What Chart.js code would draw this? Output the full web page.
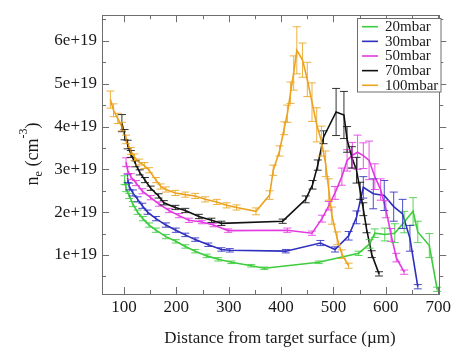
<!DOCTYPE html>
<html><head><meta charset="utf-8">
<script src="https://cdn.jsdelivr.net/npm/chart.js@4/dist/chart.umd.min.js"></script>
<style>html,body{margin:0;padding:0;background:#fff}#wrap{width:454px;height:352px}</style>
</head><body><div id="wrap"><canvas id="c" width="454" height="352"></canvas></div>
<script>
// ---- data (n_e in units of 1e19 cm^-3, distance in µm) ----
const seriesLabels = ['20mbar', '30mbar', '50mbar', '70mbar', '100mbar'];
const seriesColors = ['#3dcc3d', '#2e2ebf', '#e23ae2', '#111111', '#eba31f'];

const x20 = [101,104,110,117,126,136,148,161,180,199,217,236,258,280,305,343,368,472,548,569,579,598,617,635,652,661,683,698];
const n20 = [2.75,2.56,2.38,2.19,2.00,1.85,1.70,1.58,1.43,1.32,1.20,1.09,0.98,0.90,0.83,0.75,0.69,0.83,1.04,1.26,1.51,1.48,1.51,1.77,2.02,1.54,1.22,0.20];
const e20 = [0.1,0.08,0.06,0.06,0.05,0.05,0.05,0.05,0.05,0.04,0.04,0.04,0.04,0.04,0.03,0.03,0.03,0.03,0.05,0.1,0.1,0.15,0.22,0.25,0.32,0.25,0.28,0.05];

const x30 = [107,110,117,126,135,145,161,180,199,217,236,261,286,302,409,475,503,529,544,557,576,597,615,632,646,661];
const n30 = [2.79,2.60,2.45,2.30,2.15,2.00,1.85,1.70,1.58,1.47,1.36,1.24,1.13,1.11,1.09,1.28,1.13,1.45,1.88,2.58,2.43,2.39,2.13,1.96,1.39,0.26];
const e30 = [0.1,0.08,0.07,0.06,0.06,0.05,0.05,0.05,0.05,0.04,0.04,0.04,0.04,0.04,0.04,0.06,0.06,0.1,0.15,0.25,0.35,0.35,0.34,0.34,0.3,0.05];

const x50 = [104,107,113,123,135,151,167,186,205,224,249,271,299,412,459,478,491,503,516,526,536,546,557,568,579,590,600,610,620,635];
const n50 = [3.17,2.98,2.83,2.68,2.49,2.34,2.19,2.04,1.92,1.81,1.77,1.70,1.57,1.58,1.51,1.85,2.15,2.45,2.83,3.21,3.33,3.40,3.32,3.21,2.83,2.53,2.07,1.47,0.94,0.60];
const e50 = [0.1,0.08,0.07,0.06,0.06,0.05,0.05,0.05,0.05,0.05,0.04,0.04,0.04,0.05,0.05,0.08,0.1,0.15,0.2,0.25,0.3,0.4,0.3,0.45,0.3,0.25,0.2,0.15,0.1,0.05];

const x70 = [96,101,107,113,122,130,140,151,166,176,198,217,243,267,286,403,447,460,470,481,505,520,526,535,544,551,557,563,573,587];
const n70 = [4.08,3.81,3.58,3.36,3.13,2.93,2.75,2.56,2.38,2.22,2.11,2.04,1.90,1.81,1.74,1.79,2.30,2.64,3.10,3.75,4.34,4.27,3.70,3.28,2.98,2.50,2.07,1.62,1.02,0.56];
const e70 = [0.2,0.12,0.1,0.08,0.07,0.06,0.06,0.05,0.05,0.05,0.05,0.05,0.05,0.05,0.05,0.05,0.08,0.1,0.12,0.15,0.55,0.55,0.3,0.25,0.3,0.2,0.15,0.1,0.08,0.05];

const x100 = [74,80,88,96,104,113,120,129,139,148,161,170,180,198,217,236,255,277,296,315,352,378,385,397,406,412,418,424,430,441,450,459,468,477,485,491,497,507,516,529];
const n100 = [4.63,4.38,4.19,4.00,3.70,3.43,3.28,3.17,3.09,2.98,2.75,2.60,2.53,2.45,2.41,2.38,2.30,2.24,2.16,2.11,2.02,2.40,2.98,3.43,3.96,4.30,4.79,5.25,5.78,5.55,5.10,4.57,4.04,3.66,3.13,2.53,1.92,1.39,1.02,0.75];
const e100 = [0.2,0.15,0.12,0.1,0.1,0.08,0.08,0.07,0.07,0.06,0.06,0.06,0.06,0.06,0.06,0.06,0.06,0.06,0.06,0.06,0.08,0.1,0.12,0.12,0.15,0.2,0.25,0.4,0.55,0.4,0.4,0.45,0.4,0.35,0.3,0.25,0.2,0.15,0.1,0.06];

const xMajorTicks = [100,200,300,400,500,600,700];
const xMinorTicks = [150,250,350,450,550,650];
const yMajorTicks = [1,2,3,4,5,6];
const yMinorTicks = [0.5,1.5,2.5,3.5,4.5,5.5,6.5];
const yTickLabels = ['1e+19','2e+19','3e+19','4e+19','5e+19','6e+19'];
const xTitle = 'Distance from target surface (\u00b5m)';

const allX = [x20, x30, x50, x70, x100];
const allN = [n20, n30, n50, n70, n100];
const allE = [e20, e30, e50, e70, e100];

const SERIF = "'Liberation Serif','Times New Roman',serif";

const datasets = seriesLabels.map((lab, i) => ({
  label: lab,
  data: allX[i].map((x, k) => ({x: x, y: allN[i][k], e: allE[i][k]})),
  borderColor: seriesColors[i],
  backgroundColor: seriesColors[i],
  borderWidth: 1.6,
  pointRadius: 0,
  tension: 0,
  order: seriesLabels.length - i
}));

const framePlugin = {
  id: 'frame',
  afterDatasetsDraw(chart) {
    const {ctx, scales: {x, y}} = chart;
    ctx.save();
    chart.data.datasets.forEach(ds => {
      ctx.strokeStyle = ds.borderColor;
      ctx.globalAlpha = 0.85;
      ctx.lineWidth = 1;
      ds.data.forEach(p => {
        const px = x.getPixelForValue(p.x);
        const y1 = y.getPixelForValue(p.y + p.e);
        const y2 = y.getPixelForValue(p.y - p.e);
        ctx.beginPath();
        ctx.moveTo(px, y1); ctx.lineTo(px, y2);
        ctx.moveTo(px - 4, y1); ctx.lineTo(px + 4, y1);
        ctx.moveTo(px - 4, y2); ctx.lineTo(px + 4, y2);
        ctx.stroke();
      });
    });
    ctx.restore();
  },
  afterDraw(chart) {
    const {ctx, chartArea: a, scales: {x, y}} = chart;
    ctx.save();
    ctx.strokeStyle = '#6e6e6e';
    ctx.lineWidth = 1;
    ctx.strokeRect(Math.round(a.left) + 0.5, Math.round(a.top) + 0.5, Math.round(a.right - a.left), Math.round(a.bottom - a.top));
    ctx.beginPath();
    const tx = (v, len) => {
      const px = Math.round(x.getPixelForValue(v)) + 0.5;
      ctx.moveTo(px, a.bottom); ctx.lineTo(px, a.bottom - len);
      ctx.moveTo(px, a.top); ctx.lineTo(px, a.top + len);
    };
    const ty = (v, len) => {
      const py = Math.round(y.getPixelForValue(v)) + 0.5;
      ctx.moveTo(a.left, py); ctx.lineTo(a.left + len, py);
      ctx.moveTo(a.right, py); ctx.lineTo(a.right + len, py);
    };
    xMajorTicks.forEach(v => tx(v, 7));
    xMinorTicks.forEach(v => tx(v, 4));
    yMajorTicks.forEach(v => ty(v, 7));
    yMinorTicks.forEach(v => ty(v, 4));
    ctx.stroke();

    // legend
    const lx = 357.5, ly = 18.5, lw = 83.5, lh = 73.5;
    ctx.fillStyle = '#fff';
    ctx.fillRect(lx, ly, lw, lh);
    ctx.strokeStyle = '#6e6e6e';
    ctx.strokeRect(lx, ly, lw, lh);
    ctx.font = '15px ' + SERIF;
    ctx.textBaseline = 'middle';
    ctx.textAlign = 'left';
    chart.data.datasets.forEach((ds, i) => {
      const ry = 26.7 + i * 14.65;
      ctx.strokeStyle = ds.borderColor;
      ctx.lineWidth = 1.6;
      ctx.beginPath(); ctx.moveTo(362, ry); ctx.lineTo(378, ry); ctx.stroke();
      ctx.fillStyle = '#1a1a1a';
      ctx.fillText(ds.label, 385, ry + 0.5);
    });

    // x title
    ctx.fillStyle = '#1a1a1a';
    ctx.font = '17px ' + SERIF;
    ctx.textAlign = 'center';
    ctx.textBaseline = 'alphabetic';
    ctx.fillText(xTitle, 280, 343);

    // y title: n_e (cm^-3)
    ctx.translate(38, 154);
    ctx.rotate(-Math.PI / 2);
    const big = '18px ' + SERIF, small = '12px ' + SERIF;
    const parts = [['n', big, 0], ['e', small, 4], [' (cm', big, 0], ['-3', small, -11], [')', big, 0]];
    let total = 0;
    parts.forEach(p => { ctx.font = p[1]; total += ctx.measureText(p[0]).width; });
    let u = -total / 2;
    ctx.textAlign = 'left';
    parts.forEach(p => { ctx.font = p[1]; ctx.fillText(p[0], u, p[2]); u += ctx.measureText(p[0]).width; });
    ctx.restore();
  }
};

new Chart(document.getElementById('c'), {
  type: 'line',
  data: {datasets},
  options: {
    responsive: false,
    animation: false,
    devicePixelRatio: 1,
    layout: {padding: {left: 0, top: 7, right: 11, bottom: 0}},
    plugins: {legend: {display: false}, tooltip: {enabled: false}},
    scales: {
      x: {
        type: 'linear', min: 58, max: 702, bounds: 'data',
        grid: {display: false, drawTicks: false},
        border: {display: false},
        afterBuildTicks: s => { s.ticks = xMajorTicks.map(v => ({value: v})); },
        afterFit: s => { s.height = 58; },
        ticks: {
          padding: 3, maxRotation: 0, autoSkip: false,
          color: '#1a1a1a', font: {family: SERIF, size: 17},
          callback: v => String(v)
        }
      },
      y: {
        type: 'linear', min: 0.09, max: 6.6, bounds: 'data',
        grid: {display: false, drawTicks: false},
        border: {display: false},
        afterBuildTicks: s => { s.ticks = yMajorTicks.map(v => ({value: v})); },
        afterFit: s => { s.width = 102; },
        ticks: {
          padding: 5, autoSkip: false,
          color: '#1a1a1a', font: {family: SERIF, size: 17},
          callback: (v, i) => yTickLabels[i]
        }
      }
    }
  },
  plugins: [framePlugin]
});
</script>
</body></html>
